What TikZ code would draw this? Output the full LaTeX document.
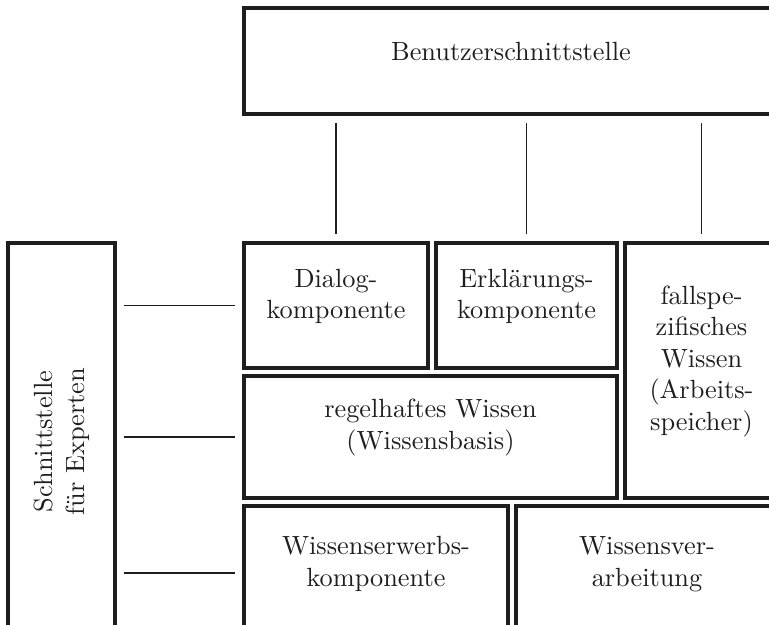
\documentclass[tikz,border=0pt]{standalone}
\usetikzlibrary{fit}
\definecolor{ink}{RGB}{30,30,30}
\begin{document}
\begin{tikzpicture}[x=0.38pt,y=-0.38pt,
  box/.style={draw=ink, line width=1.2pt, inner sep=0pt, align=center, text=ink, font=\normalsize},
  conn/.style={draw=ink, line width=0.5pt, shorten <=7*0.38pt, shorten >=7*0.38pt}]
\useasboundingbox (0,0) rectangle (769,624);
\clip (0,0) rectangle (769,624);
\node[box, fit={(244,8)(778,114)}] (top) {Benutzerschnittstelle};
\node[box, fit={(244,243)(428,368)}] (dialog) {Dialog-\\komponente};
\node[box, fit={(436,243)(617,368)}] (erkl) {Erklärungs-\\komponente};
\node[box, fit={(625,243)(778,498)}] (fall) {fallspe-\\zifisches\\Wissen\\(Arbeits-\\speicher)};
\node[box, fit={(244,376)(617,498)}] (regel) {regelhaftes Wissen\\(Wissensbasis)};
\node[box, fit={(244,506)(508,640)}] (erwerb) {Wissenserwerbs-\\komponente};
\node[box, fit={(516,506)(778,640)}] (verarb) {Wissensver-\\arbeitung};
\node[box, fit={(8,243)(115,640)}] (expert) {};
\node[align=center, text=ink, rotate=90] (exptext) at (expert.center) {Schnittstelle\\für Experten};
\draw[conn] (top.south -| dialog.north) -- (dialog.north);
\draw[conn] (top.south -| erkl.north) -- (erkl.north);
\draw[conn] (top.south -| fall.north) -- (fall.north);
\draw[conn] (expert.east |- dialog.west) -- (dialog.west);
\draw[conn] (expert.east |- regel.west) -- (regel.west);
\draw[conn] (expert.east |- erwerb.west) -- (erwerb.west);
\end{tikzpicture}
\end{document}
